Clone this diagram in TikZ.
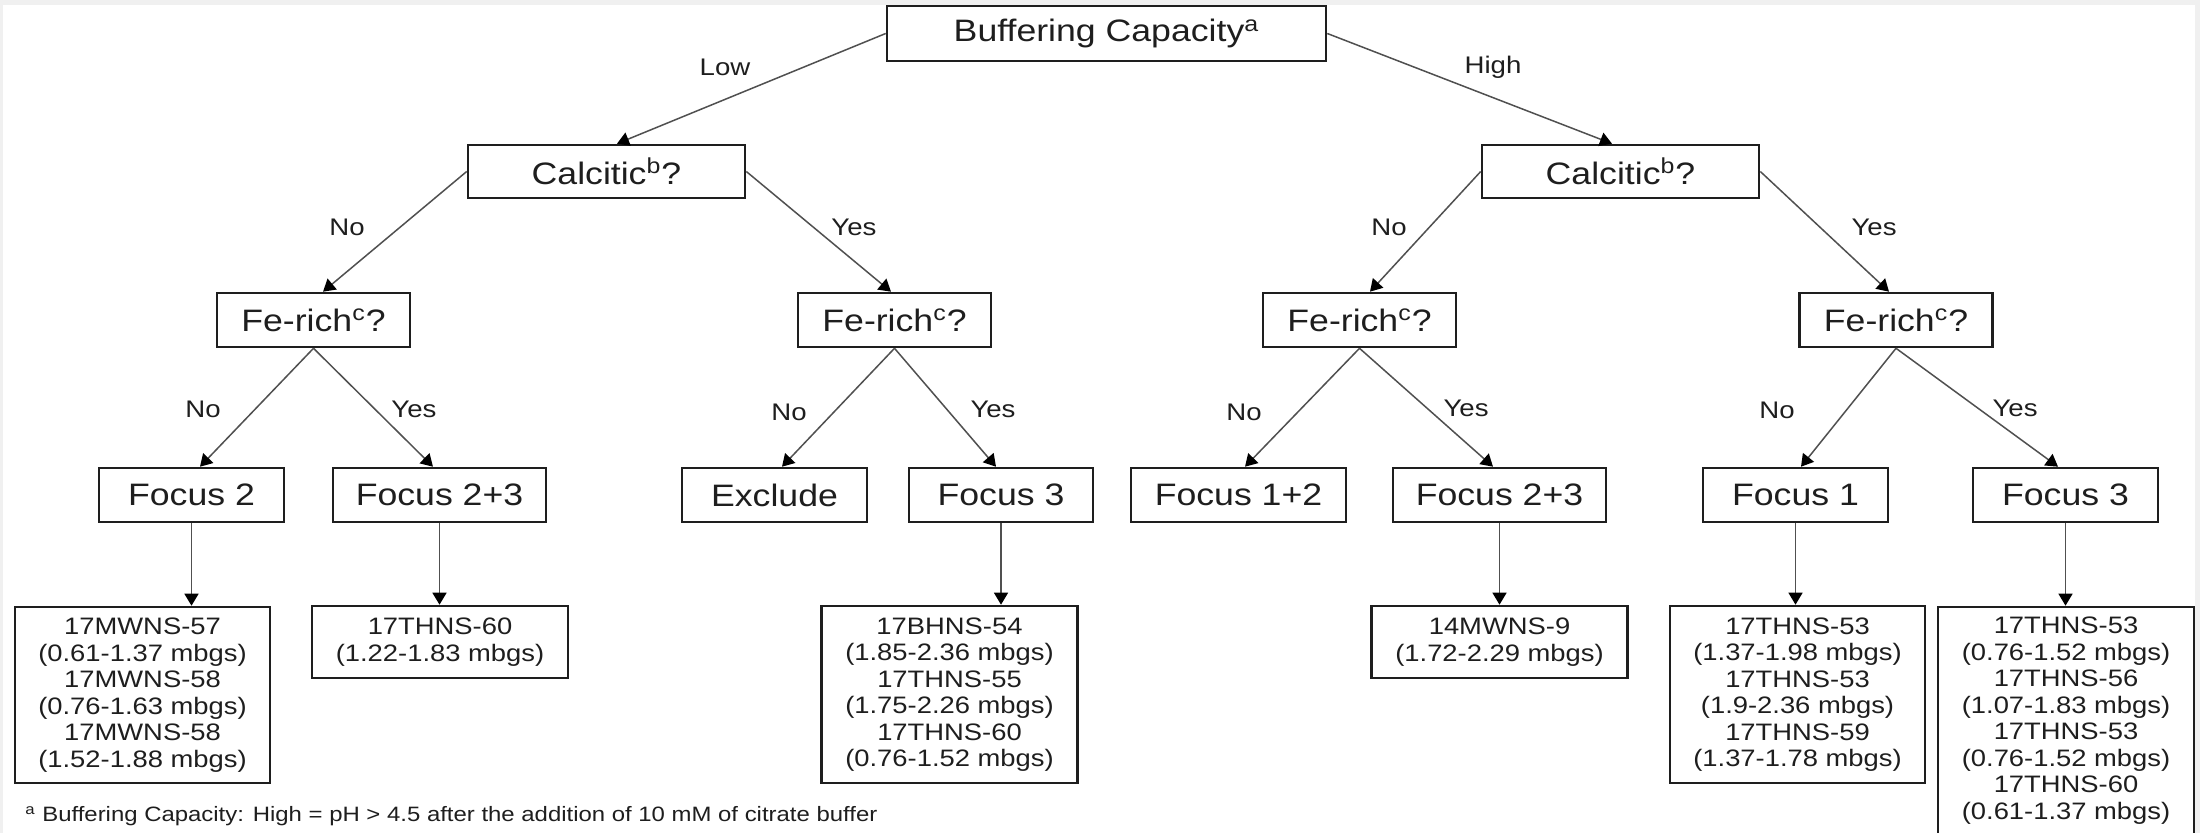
\documentclass[tikz,border=0pt]{standalone}
\usepackage{fontspec}
\setmainfont{Liberation Sans}[FakeStretch=1.15]
\usetikzlibrary{arrows.meta}
\definecolor{ink}{HTML}{1E1E1E}
\definecolor{wire}{HTML}{505050}
\definecolor{framegray}{HTML}{F0F0F0}
\begin{document}
\begin{tikzpicture}[x=0.5pt,y=-0.5pt,
  box/.style={draw=ink, line width=1.3pt, fill=white, inner sep=0pt, text=ink,
    font=\fontsize{15.5pt}{18pt}\selectfont, minimum height=27pt},
  leaf/.style={draw=ink, line width=1.3pt, fill=white, inner sep=0pt, text=ink, align=center,
    font=\fontsize{11.9pt}{13.25pt}\selectfont, minimum width=128pt},
  lbl/.style={text=ink, font=\fontsize{12pt}{14pt}\selectfont, inner sep=0pt},
  arr/.style={draw=wire, line width=0.75pt, -{Triangle[length=6pt,width=7pt,color=black]}},
]
\useasboundingbox (0,0) rectangle (2200,833);
\clip (0,0) rectangle (2200,833);
\fill[framegray] (0,0) rectangle (2200,833);
\fill[white] (3,5) rectangle (2195,840);

% level 0
\node[box, minimum width=219.5pt, minimum height=27.5pt] (root) at (1106.5,33.5) {Buffering Capacity\textsuperscript{a}};
% level 1
\node[box, minimum width=138.5pt, minimum height=26.5pt] (calL) at (606.5,171.5) {Calcitic\textsuperscript{b}?};
\node[box, minimum width=138.5pt, minimum height=26.5pt] (calR) at (1620.5,171.5) {Calcitic\textsuperscript{b}?};
% level 2
\node[box, minimum width=96.5pt] (feLL) at (313.5,320) {Fe-rich\textsuperscript{c}?};
\node[box, minimum width=96.5pt] (feLR) at (894.5,320) {Fe-rich\textsuperscript{c}?};
\node[box, minimum width=96.5pt] (feRL) at (1359.5,320) {Fe-rich\textsuperscript{c}?};
\node[box, minimum width=96.5pt] (feRR) at (1896,320) {Fe-rich\textsuperscript{c}?};
% level 3
\node[box, minimum width=92.5pt] (f2) at (191.5,495) {Focus 2};
\node[box, minimum width=106.5pt] (f23L) at (439.5,495) {Focus 2+3};
\node[box, minimum width=92.5pt] (excl) at (774.5,495) {Exclude};
\node[box, minimum width=92pt] (f3L) at (1001,495) {Focus 3};
\node[box, minimum width=107.5pt] (f12) at (1238.5,495) {Focus 1+2};
\node[box, minimum width=106.5pt] (f23R) at (1499.5,495) {Focus 2+3};
\node[box, minimum width=92.5pt] (f1) at (1795.5,495) {Focus 1};
\node[box, minimum width=92.5pt] (f3R) at (2065.5,495) {Focus 3};
% leaves
\node[leaf, minimum width=127.5pt, minimum height=88pt] (l1) at (142.5,695)
  {17MWNS-57\\(0.61-1.37 mbgs)\\17MWNS-58\\(0.76-1.63 mbgs)\\17MWNS-58\\(1.52-1.88 mbgs)};
\node[leaf, minimum height=36pt] (l2) at (440,642)
  {17THNS-60\\(1.22-1.83 mbgs)};
\node[leaf, minimum height=88.5pt] (l3) at (949.5,694.5)
  {17BHNS-54\\(1.85-2.36 mbgs)\\17THNS-55\\(1.75-2.26 mbgs)\\17THNS-60\\(0.76-1.52 mbgs)};
\node[leaf, minimum height=36pt] (r1) at (1499.5,642)
  {14MWNS-9\\(1.72-2.29 mbgs)};
\node[leaf, minimum width=127.5pt, minimum height=88.5pt] (r2) at (1797.5,694.5)
  {17THNS-53\\(1.37-1.98 mbgs)\\17THNS-53\\(1.9-2.36 mbgs)\\17THNS-59\\(1.37-1.78 mbgs)};
\node[leaf, minimum height=113.5pt] (r3) at (2066,720.5)
  {17THNS-53\\(0.76-1.52 mbgs)\\17THNS-56\\(1.07-1.83 mbgs)\\17THNS-53\\(0.76-1.52 mbgs)\\17THNS-60\\(0.61-1.37 mbgs)};

% connectors
\draw[arr] (root.west) -- ([xshift=5.25pt]calL.north);
\draw[arr] (root.east) -- ([xshift=-4.25pt]calR.north);
\draw[arr] (calL.west) -- ([xshift=4.75pt]feLL.north);
\draw[arr] (calL.east) -- ([xshift=-1.75pt]feLR.north);
\draw[arr] (calR.west) -- ([xshift=5.25pt]feRL.north);
\draw[arr] (calR.east) -- ([xshift=-3.5pt]feRR.north);
\draw[arr] (feLL.south) -- ([xshift=4.25pt]f2.north);
\draw[arr] (feLL.south) -- ([xshift=-3.25pt]f23L.north);
\draw[arr] (feLR.south) -- ([xshift=3.75pt]excl.north);
\draw[arr] (feLR.south) -- ([xshift=-2.5pt]f3L.north);
\draw[arr] (feRL.south) -- ([xshift=3.25pt]f12.north);
\draw[arr] (feRL.south) -- ([xshift=-3.25pt]f23R.north);
\draw[arr] (feRR.south) -- ([xshift=2.75pt]f1.north);
\draw[arr] (feRR.south) -- ([xshift=-3.75pt]f3R.north);
\draw[arr] (f2.south) -- (f2.south |- l1.north);
\draw[arr] (f23L.south) -- (f23L.south |- l2.north);
\draw[arr] (f3L.south) -- (f3L.south |- l3.north);
\draw[arr] (f23R.south) -- (f23R.south |- r1.north);
\draw[arr] (f1.south) -- (f1.south |- r2.north);
\draw[arr] (f3R.south) -- (f3R.south |- r3.north);

% labels
\node[lbl] (tLow) at (725,67) {Low};
\node[lbl] (tHigh) at (1493,67) {High};
\node[lbl] (tNo1) at (347,227) {No};
\node[lbl] (tYes1) at (854,227) {Yes};
\node[lbl] (tNo2) at (1389,227) {No};
\node[lbl] (tYes2) at (1874,227) {Yes};
\node[lbl] (tNo3) at (203,409) {No};
\node[lbl] (tYes3) at (414,409) {Yes};
\node[lbl] (tNo4) at (789,412) {No};
\node[lbl] (tYes4) at (993,409) {Yes};
\node[lbl] (tNo5) at (1244,412) {No};
\node[lbl] (tYes5) at (1466,408) {Yes};
\node[lbl] (tNo6) at (1777,410) {No};
\node[lbl] (tYes6) at (2015,408) {Yes};

% footnote
\node[anchor=west, inner sep=0pt, text=ink, font=\fontsize{10.4pt}{12pt}\selectfont] (fn) at (25,816)
  {\textsuperscript{a} Buffering Capacity: High = pH > 4.5 after the addition of 10 mM of citrate buffer};
\end{tikzpicture}
\end{document}
